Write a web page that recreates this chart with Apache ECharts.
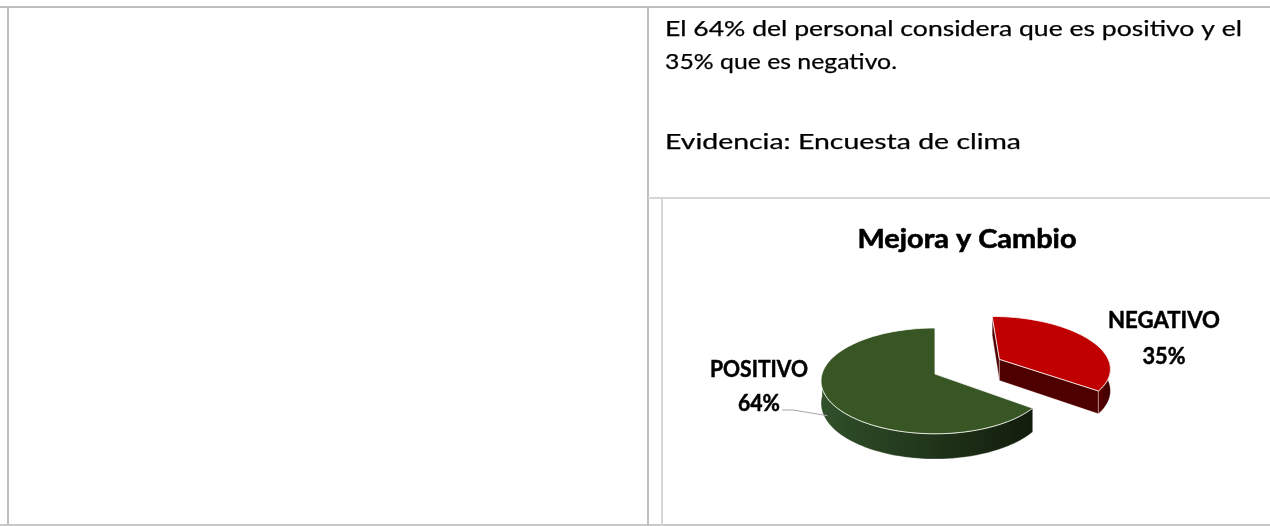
<!DOCTYPE html>
<html>
<head>
<meta charset="utf-8">
<script src="https://cdn.jsdelivr.net/npm/echarts@6/dist/echarts.min.js"></script>
<style>
  html, body { margin: 0; padding: 0; background: #fff; }
  #container { width: 1270px; height: 526px; }
</style>
</head>
<body>
<div id="container"></div>
<script>
const chartIns = echarts.init(document.getElementById('container'));

// data
const categories = ['NEGATIVO', 'POSITIVO'];
const values = [35, 64];
const chartTitle = 'Mejora y Cambio';
const bodyLines = [
  'El 64% del personal considera que es positivo y el',
  '35% que es negativo.',
  'Evidencia: Encuesta de clima'
];

// styles
const topColors = ['#c00000', '#375623'];
const sideColors = [['#5a0000', '#3c0000'], ['#30502a', '#121c0b']];
const faceColors = ['#4e0000', '#1c2c12'];
const explode = [0.66, 0];

// 3d pie projection (pixels)
const PIE = { cx: 935, cy: 374, rx: 113, ry: 52, k: 0.13, h: 22 };
const total = values.reduce((a, b) => a + b, 0);
const startAngles = [];
values.reduce((acc, v) => { startAngles.push(acc); return acc - 360 * v / total; }, 90);

const measureCtx = document.createElement('canvas').getContext('2d');
function fitScale(text, font, width) {
  measureCtx.font = font;
  return width / measureCtx.measureText(text).width;
}

function proj(X, Z, drop) {
  const s = 1 / (1 + PIE.k * Z);
  return [PIE.cx + PIE.rx * X * s, PIE.cy - PIE.ry * Z * s + drop * PIE.h * s];
}

// label placement per slice (baselines), leader line start for positivo
const LABEL_SIZE = 23;
const LABEL_FONT = 'bold ' + LABEL_SIZE + 'px Lato';
const labelLayout = [
  { x: 1164, y1: 329, y2: 365, w1: 112, w2: 43 },
  { x: 759, y1: 378, y2: 412, w1: 98, w2: 42, leader: [[782, 410], [793, 410]], leaderAngle: 206 }
];

function textEl(text, font, x, baseline, width, size, weight) {
  return {
    type: 'text',
    x: x,
    y: baseline - 0.36 * size,
    scaleX: fitScale(text, font, width),
    style: {
      text: text, font: font, fill: '#000',
      stroke: '#000', lineWidth: weight,
      align: 'center', verticalAlign: 'middle',
      textAlign: 'center', textVerticalAlign: 'middle'
    }
  };
}

function renderItem(params, api) {
  const i = params.dataIndex;
  const v = api.value(0);
  const a0 = startAngles[i];
  const a1 = a0 - 360 * v / total;
  const mid = (a0 + a1) / 2 * Math.PI / 180;
  const ox = explode[i] * Math.cos(mid);
  const oz = explode[i] * Math.sin(mid);
  const pt = (deg, drop) => {
    const t = deg * Math.PI / 180;
    return proj(ox + Math.cos(t), oz + Math.sin(t), drop);
  };
  const apex = drop => proj(ox, oz, drop);
  const arc = (from, to, drop) => {
    const n = Math.ceil(Math.abs(to - from) / 2) + 1;
    const pts = [];
    for (let j = 0; j <= n; j++) pts.push(pt(from + (to - from) * j / n, drop));
    return pts;
  };

  const children = [];
  // radial faces
  [a0, a1].forEach(b => {
    children.push({
      type: 'polygon',
      shape: { points: [apex(0), pt(b, 0), pt(b, 1), apex(1)] },
      style: { fill: faceColors[i], stroke: 'rgba(255,255,255,0.6)', lineWidth: 0.6 }
    });
  });
  // outer side wall, front half only
  [-1, 0, 1].forEach(kk => {
    const lo = Math.max(a1, -180 + 360 * kk);
    const hi = Math.min(a0, 360 * kk);
    if (hi - lo > 0.1) {
      children.push({
        type: 'polygon',
        shape: { points: arc(lo, hi, 0).concat(arc(hi, lo, 1)) },
        style: {
          fill: new echarts.graphic.LinearGradient(0, 0, 1, 0, [
            { offset: 0, color: sideColors[i][0] },
            { offset: 1, color: sideColors[i][1] }
          ]),
          stroke: 'rgba(255,255,255,0.55)', lineWidth: 0.6
        }
      });
    }
  });
  // top face
  children.push({
    type: 'polygon',
    shape: { points: [apex(0)].concat(arc(a0, a1, 0)) },
    style: { fill: topColors[i], stroke: 'rgba(255,255,255,0.9)', lineWidth: 0.9 }
  });

  // label
  const lay = labelLayout[i];
  if (lay.leader) {
    children.push({
      type: 'polyline',
      shape: { points: lay.leader.concat([pt(lay.leaderAngle, 0.75)]) },
      style: { stroke: '#a6a6a6', lineWidth: 1, fill: null }
    });
  }
  children.push(textEl(categories[i], LABEL_FONT, lay.x, lay.y1, lay.w1, LABEL_SIZE, 0.5));
  children.push(textEl(v + '%', LABEL_FONT, lay.x, lay.y2, lay.w2, LABEL_SIZE, 0.5));

  return { type: 'group', children: children };
}

// table borders
const outer = '#bfbfbf';
const inner = '#d6d6d6';
function line(x1, y1, x2, y2, color) {
  return { type: 'line', shape: { x1, y1, x2, y2 }, style: { stroke: color, lineWidth: 2 }, z: 1 };
}

const BODY_SIZE = 20.5;
const BODY_FONT = BODY_SIZE + 'px Lato';
const bodyLayout = [
  { baseline: 37, width: 577 },
  { baseline: 70, width: 232 },
  { baseline: 150, width: 356 }
];
const bodyTexts = bodyLines.map((t, i) => ({
  type: 'text',
  x: 665,
  y: bodyLayout[i].baseline - 0.36 * BODY_SIZE,
  scaleX: fitScale(t, BODY_FONT, bodyLayout[i].width),
  style: {
    text: t, font: BODY_FONT, fill: '#000',
    stroke: '#000', lineWidth: 0.25,
    align: 'left', verticalAlign: 'middle',
    textAlign: 'left', textVerticalAlign: 'middle'
  }
}));

const TITLE_SIZE = 26;
const TITLE_FONT = 'bold ' + TITLE_SIZE + 'px Lato';
const titleText = textEl(chartTitle, TITLE_FONT, 967, 249, 219, TITLE_SIZE, 0.6);

const option = {
  animation: false,
  graphic: {
    elements: [
      line(0, 7, 1270, 7, outer),
      line(8, 6, 8, 526, outer),
      line(0, 525, 1270, 525, '#c8c8c8'),
      line(648, 6, 648, 526, outer),
      line(648, 198, 1270, 198, inner),
      line(662, 198, 662, 526, inner),
      titleText
    ].concat(bodyTexts)
  },
  series: [{
    type: 'custom',
    coordinateSystem: 'none',
    silent: true,
    renderItem: renderItem,
    data: values.map((v, i) => ({ name: categories[i], value: v }))
  }]
};

chartIns.setOption(option);
</script>
</body>
</html>
